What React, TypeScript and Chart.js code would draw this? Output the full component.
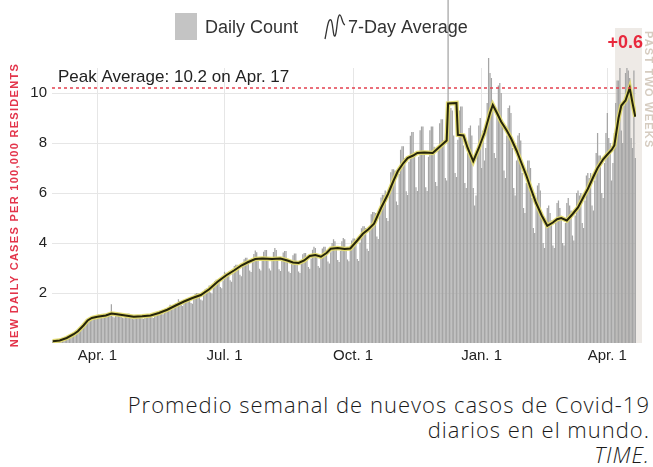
import React, { useEffect, useRef } from "react";
import { Chart, registerables } from "chart.js";

Chart.register(...registerables);

const FONT = '"Liberation Sans", Arial, Helvetica, sans-serif';

// Day index 0 = Feb 29, 2020 (Saturday). Each row = one week, Sat..Fri.
const dailySpring2020 = [
  0.05, 0.06, 0.07, 0.08, 0.09, 0.1, 0.12,
  0.12, 0.13, 0.15, 0.18, 0.2, 0.24, 0.27,
  0.3, 0.3, 0.35, 0.42, 0.5, 0.57, 0.62,
  0.65, 0.68, 0.75, 0.85, 0.95, 1.0, 1.02,
  0.98, 0.95, 1.0, 1.08, 1.12, 1.15, 1.1,
  1.14, 1.03, 1.0, 1.1, 1.18, 1.2, 1.19,
  1.55, 1.06, 1.02, 1.1, 1.18, 1.2, 1.18,
  1.12, 1.01, 0.99, 1.08, 1.15, 1.18, 1.17,
  1.07, 0.97, 0.95, 1.03, 1.1, 1.12, 1.11,
  1.09, 0.98, 0.96, 1.05, 1.12, 1.14, 1.13,
  1.14, 1.03, 1.0, 1.1, 1.18, 1.2, 1.19,
  1.3, 1.18, 1.15, 1.25, 1.34, 1.37, 1.36,
  1.53, 1.38, 1.35, 1.47, 1.58, 1.6, 1.75,
  1.68, 1.52, 1.48, 1.62, 1.73, 1.77, 1.75,
  1.82, 1.6, 1.57, 1.78, 1.97, 2.0, 2.0,
  1.98, 1.74, 1.7, 1.94, 2.14, 2.18, 2.18,
  2.3, 2.02, 1.98, 2.25, 2.48, 2.53, 2.53,
  2.55, 2.24, 2.19, 2.5, 2.85, 2.8, 2.8,
];
const dailySummer2020 = [
  2.85, 2.51, 2.45, 2.79, 3.08, 3.13, 3.13,
  3.1, 2.73, 2.67, 3.04, 3.35, 3.41, 3.41,
  3.3, 2.9, 2.84, 3.23, 3.56, 3.7, 3.63,
  3.38, 2.97, 2.9, 3.31, 3.65, 3.72, 3.72,
  3.4, 2.98, 2.9, 3.3, 3.64, 3.8, 3.72,
  3.35, 2.95, 2.88, 3.28, 3.62, 3.68, 3.68,
  3.25, 2.86, 2.8, 3.19, 3.51, 3.58, 3.58,
  3.22, 2.86, 2.8, 3.19, 3.55, 3.6, 3.6,
  3.45, 3.04, 2.97, 3.38, 3.73, 3.85, 3.8,
  3.5, 3.08, 3.01, 3.43, 3.78, 3.85, 3.85,
  3.7, 3.26, 3.18, 3.63, 4.0, 4.15, 4.07,
  3.77, 3.32, 3.24, 3.69, 4.07, 4.2, 4.15,
  3.8, 3.34, 3.27, 3.72, 4.1, 4.18, 4.18,
];
const dailyAutumn2020 = [
  4.1, 3.36, 3.28, 4.02, 4.59, 4.67, 4.67,
  4.6, 3.77, 3.68, 4.51, 5.15, 5.24, 5.24,
  5.2, 4.26, 4.16, 5.1, 5.82, 5.93, 5.93,
  6.1, 5.0, 4.88, 5.98, 6.83, 6.95, 6.95,
  6.9, 5.66, 5.52, 6.76, 7.73, 7.87, 7.87,
  7.4, 6.07, 5.92, 7.25, 8.29, 8.44, 8.44,
  7.6, 6.23, 6.08, 7.45, 8.51, 8.66, 8.66,
  7.6, 6.23, 6.08, 7.45, 8.51, 8.66, 8.66,
  7.85, 6.44, 6.28, 7.69, 8.79, 8.95, 8.95,
  8.1, 6.6, 6.5, 18.0, 9.3, 9.4, 9.3,
  8.3, 6.8, 6.64, 8.13, 9.3, 9.46, 9.46,
  7.9, 6.4, 6.2, 7.6, 8.6, 8.7, 8.3,
  6.2, 5.5, 5.9, 7.6, 8.7, 9.0, 7.0,
];
const daily2021 = [
  8.5, 7.3, 7.8, 9.6, 11.4, 10.8, 10.6,
  9.5, 7.6, 7.4, 9.2, 10.3, 10.4, 10.0,
  8.7, 6.9, 6.6, 8.3, 9.4, 9.5, 9.2,
  7.8, 6.2, 5.9, 7.3, 8.3, 8.4, 8.1,
  6.8, 5.4, 5.2, 6.4, 7.3, 7.3, 7.0,
  5.8, 4.6, 4.4, 5.5, 6.3, 6.4, 6.1,
  5.0, 4.0, 3.8, 4.7, 5.4, 5.5, 5.2,
  4.9, 3.9, 3.8, 4.8, 5.6, 5.7, 5.4,
  5.0, 4.0, 3.9, 4.8, 5.6, 5.8, 5.5,
  5.3, 4.3, 4.1, 5.1, 6.0, 6.1, 5.9,
  6.0, 4.8, 4.6, 5.7, 6.7, 6.8, 6.6,
  6.8, 5.5, 5.3, 6.5, 7.6, 8.4, 7.5,
  7.5, 6.0, 5.8, 7.2, 8.4, 9.2, 8.2,
  8.0, 6.5, 7.2, 8.4, 9.6, 10.5, 10.5,
  11.0, 8.5, 8.0, 9.5, 10.8, 11.0, 10.9,
  10.6, 8.2, 7.8, 10.9, 7.4,
];

// 7-day average
const avgDays = [
  0, 5, 10, 15, 18, 22, 25, 28, 32, 38, 42, 46, 52, 58, 64, 70, 76, 82, 88, 94,
  100, 106, 112, 118, 124, 130, 135, 140, 145, 150, 157, 163, 168, 172, 176, 180,
  184, 188, 192, 196, 199, 204, 209, 213, 218, 222, 226, 230, 235, 240, 244, 247,
  251, 254, 258, 261, 266, 272, 276, 280, 282, 283, 289, 290, 294, 297, 301, 305,
  309, 313, 315, 318, 321, 325, 328, 332, 335, 339, 342, 346, 350, 354, 358, 361,
  364, 368, 372, 376, 380, 383, 387, 390, 394, 397, 400, 402, 405, 407, 410, 413,
  415, 417,
];
const avgValues = [
  0.07, 0.1, 0.2, 0.35, 0.47, 0.7, 0.9, 1.0, 1.05, 1.1, 1.18, 1.15, 1.1, 1.05, 1.07, 1.1, 1.2, 1.33, 1.5, 1.66,
  1.8, 1.92, 2.15, 2.45, 2.7, 2.91, 3.1, 3.24, 3.36, 3.38, 3.36, 3.38, 3.3, 3.22, 3.2, 3.3,
  3.48, 3.52, 3.45, 3.6, 3.77, 3.8, 3.76, 3.78, 4.1, 4.37, 4.55, 4.77, 5.4, 5.96, 6.5, 6.87,
  7.2, 7.4, 7.5, 7.6, 7.62, 7.6, 7.8, 8.0, 8.1, 9.58, 9.6, 8.33, 8.3, 7.8, 7.27, 7.8,
  8.4, 9.2, 9.52, 9.2, 8.85, 8.5, 8.19, 7.7, 7.27, 6.7, 6.21, 5.6, 5.1, 4.69, 4.82, 4.95,
  5.0, 4.9, 5.15, 5.42, 5.85, 6.16, 6.65, 7.0, 7.35, 7.54, 7.72, 7.9, 9.0, 9.5, 9.7, 10.2,
  9.6, 9.05,
];

const tickDays = [32, 123, 215, 307, 397];
const tickLabels = ["Apr. 1", "Jul. 1", "Oct. 1", "Jan. 1", "Apr. 1"];
const yTickValues = [2, 4, 6, 8, 10];
const peakValue = 10.2;
const pastTwoWeeksStart = 403;
const peakText = "Peak Average: 10.2 on Apr. 17";
const changeText = "+0.6";

export default function App() {
  const ref = useRef<HTMLCanvasElement>(null);

  useEffect(() => {
    const daily = [...dailySpring2020, ...dailySummer2020, ...dailyAutumn2020, ...daily2021];
    const barData = daily.map((v, i) => ({ x: i, y: v }));
    const avgData = avgDays.map((d, i) => ({ x: d, y: avgValues[i] }));

    const annot = {
      id: "annot",
      beforeDatasetsDraw(chart: any) {
        const { ctx, chartArea, scales } = chart;
        const x0 = scales.x.getPixelForValue(pastTwoWeeksStart - 0.5);
        const yTop = scales.y.getPixelForValue(12.6);
        ctx.save();
        ctx.fillStyle = "rgba(210,200,190,0.38)";
        ctx.fillRect(x0, yTop, chartArea.right + 6 - x0, chartArea.bottom - yTop);
        ctx.restore();
      },
      afterDatasetsDraw(chart: any) {
        const { ctx, chartArea, scales } = chart;
        const y = scales.y.getPixelForValue(peakValue);
        ctx.save();
        ctx.strokeStyle = "#e4404f";
        ctx.lineWidth = 1.3;
        ctx.setLineDash([3, 3]);
        ctx.beginPath();
        ctx.moveTo(chartArea.left, y);
        ctx.lineTo(chartArea.right + 4, y);
        ctx.stroke();
        ctx.restore();
      },
      afterDraw(chart: any) {
        const { ctx } = chart;
        ctx.save();
        // legend
        ctx.fillStyle = "#c4c4c4";
        ctx.fillRect(175, 13, 22, 27);
        ctx.fillStyle = "#333";
        ctx.font = `18px ${FONT}`;
        ctx.textBaseline = "middle";
        ctx.textAlign = "left";
        ctx.fillText("Daily Count", 205, 28);
        ctx.fillText("7-Day Average", 348, 28);
        ctx.strokeStyle = "#333";
        ctx.lineWidth = 1.3;
        ctx.beginPath();
        ctx.moveTo(325, 39);
        ctx.bezierCurveTo(327, 30, 328, 18, 331, 20);
        ctx.bezierCurveTo(333, 22, 333, 38, 335, 36);
        ctx.bezierCurveTo(337, 34, 337, 14, 340, 15);
        ctx.bezierCurveTo(342, 16, 342, 24, 345, 25);
        ctx.stroke();
        // peak text
        ctx.fillStyle = "#222";
        ctx.font = `17px ${FONT}`;
        ctx.fillText(peakText, 58, 77);
        // +0.6
        ctx.fillStyle = "#e8283c";
        ctx.font = `bold 18px ${FONT}`;
        ctx.textAlign = "right";
        ctx.fillText(changeText, 643, 43);
        ctx.restore();

        // PAST TWO WEEKS
        ctx.save();
        ctx.translate(648, 31);
        ctx.rotate(Math.PI / 2);
        (ctx as any).letterSpacing = "1.2px";
        ctx.font = `bold 11px ${FONT}`;
        ctx.fillStyle = "#d6ccc0";
        ctx.textAlign = "left";
        ctx.textBaseline = "middle";
        ctx.fillText("PAST TWO WEEKS", 0, 0);
        ctx.restore();

        // y axis title
        ctx.save();
        ctx.translate(15, 205);
        ctx.rotate(-Math.PI / 2);
        (ctx as any).letterSpacing = "1.3px";
        ctx.font = `bold 11px ${FONT}`;
        ctx.fillStyle = "#e3344a";
        ctx.textAlign = "center";
        ctx.textBaseline = "middle";
        ctx.fillText("NEW DAILY CASES PER 100,000 RESIDENTS", 0, 0);
        ctx.restore();
      },
    };

    const chart = new Chart(ref.current as HTMLCanvasElement, {
      type: "bar",
      data: {
        datasets: [
          {
            type: "line",
            data: avgData,
            borderColor: "#26250a",
            borderWidth: 2,
            pointRadius: 0,
            tension: 0,
            order: 1,
          } as any,
          {
            type: "line",
            data: avgData,
            borderColor: "rgba(226,218,110,0.95)",
            borderWidth: 4.5,
            pointRadius: 0,
            tension: 0,
            order: 2,
          } as any,
          {
            type: "bar",
            data: barData,
            backgroundColor: "#a5a5a5",
            barPercentage: 0.9,
            categoryPercentage: 1,
            order: 3,
            clip: false,
          } as any,
        ],
      },
      options: {
        responsive: false,
        animation: false,
        layout: { padding: { top: 68, right: 17, left: 0, bottom: 0 } },
        plugins: { legend: { display: false }, tooltip: { enabled: false } },
        scales: {
          x: {
            type: "linear",
            min: -0.5,
            max: 417.5,
            offset: false,
            afterBuildTicks: (s: any) => {
              s.ticks = tickDays.map((v) => ({ value: v }));
            },
            afterFit: (s: any) => {
              s.height = 27;
            },
            ticks: {
              autoSkip: false,
              maxRotation: 0,
              padding: 4,
              color: "#222",
              font: { family: FONT, size: 15 },
              callback: (v: any) => {
                const i = tickDays.indexOf(Number(v));
                return i >= 0 ? tickLabels[i] : "";
              },
            },
            grid: { color: "#e6e6e6", drawTicks: false, offset: false },
            border: { display: false },
          },
          y: {
            min: 0,
            max: 11,
            afterBuildTicks: (s: any) => {
              s.ticks = yTickValues.map((v) => ({ value: v }));
            },
            afterFit: (s: any) => {
              s.width = 52;
            },
            ticks: {
              padding: 5,
              color: "#222",
              font: { family: FONT, size: 15 },
            },
            grid: { color: "#e6e6e6", drawTicks: false },
            border: { display: false },
          },
        },
      } as any,
      plugins: [annot],
    });
    return () => chart.destroy();
  }, []);

  return (
    <div
      style={{
        position: "fixed",
        left: 0,
        top: 0,
        width: 653,
        height: 467,
        background: "#fff",
        overflow: "hidden",
      }}
    >
      <canvas ref={ref} width={653} height={370} style={{ display: "block" }} />
      <div
        style={{
          position: "absolute",
          right: 3,
          top: 392,
          textAlign: "right",
          fontFamily: "'Open Sans', Lato, sans-serif",
          fontWeight: 300,
          fontSize: 22,
          letterSpacing: "1px",
          lineHeight: "25px",
          color: "#1a1a1a",
          whiteSpace: "nowrap",
        }}
      >
        <div>Promedio semanal de nuevos casos de Covid-19</div>
        <div>diarios en el mundo.</div>
        <div style={{ fontStyle: "italic" }}>TIME.</div>
      </div>
    </div>
  );
}
